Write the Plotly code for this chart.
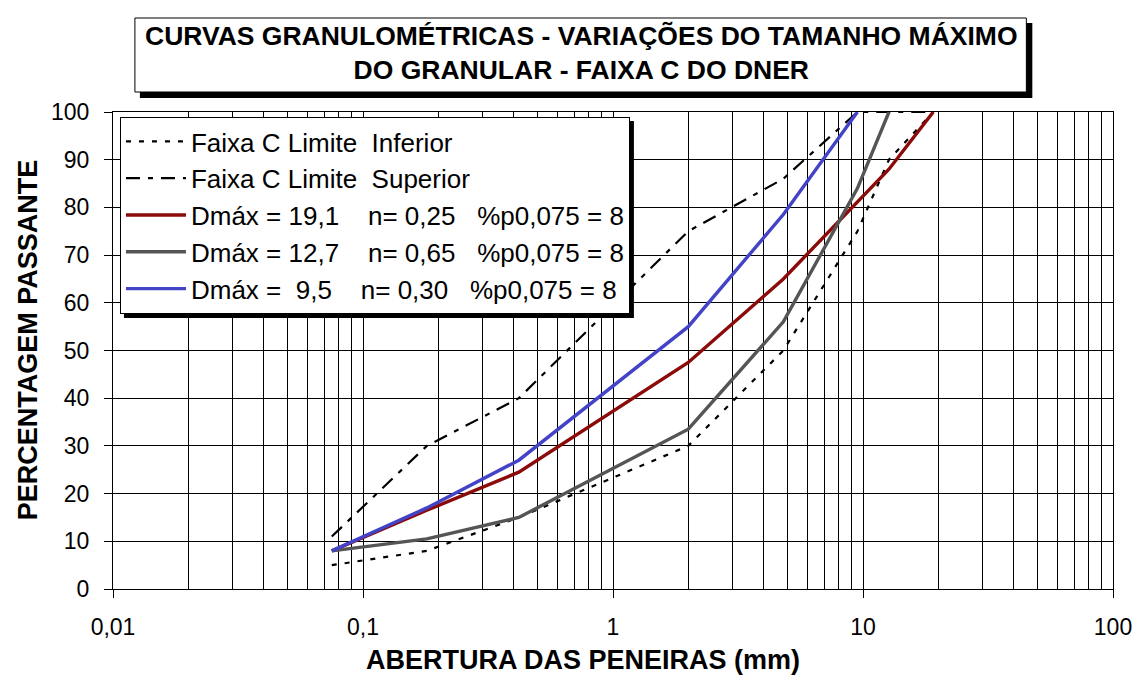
import plotly.graph_objects as go

# aberturas das peneiras (mm)
peneiras = [0.075, 0.18, 0.42, 2.0, 4.8, 9.5, 12.7, 19.1]

# faixa C do DNER
lim_inferior = [5, 8, 15, 30, 50, 75, 90, 100]
lim_superior = [11, 30, 40, 75, 86, 100, 100, 100]

# curvas granulometricas
peneiras_19 = [0.075, 0.18, 0.42, 2.0, 4.8, 9.5, 12.7, 19.1]
curva_19 = [8, 16.5, 24.5, 47.5, 65, 81, 88, 100]
peneiras_12 = [0.075, 0.18, 0.42, 2.0, 4.8, 9.5, 12.7]
curva_12 = [8, 10.5, 15, 33.5, 56, 84, 100]
peneiras_9 = [0.075, 0.18, 0.42, 2.0, 4.8, 9.5]
curva_9 = [8, 17, 27, 55, 78.5, 100]

nb = "\u00a0"
nomes = [
    "Faixa C Limite" + nb + " Inferior",
    "Faixa C Limite" + nb + " Superior",
    "Dmáx = 19,1" + nb * 3 + " n= 0,25" + nb * 2 + " %p0,075 = 8",
    "Dmáx = 12,7" + nb * 3 + " n= 0,65" + nb * 2 + " %p0,075 = 8",
    "Dmáx = " + nb + "9,5" + nb * 3 + " n= 0,30" + nb * 2 + " %p0,075 = 8",
]

x_ticks = [0.01, 0.1, 1, 10, 100]
x_ticktext = ["0,01", "0,1", "1", "10", "100"]
x_minor = [m * 10.0 ** e for e in range(-2, 2) for m in range(2, 10)]

sans = "Liberation Sans, Arial"

fig = go.Figure()
fig.add_trace(go.Scatter(x=peneiras, y=lim_inferior, mode="lines", name=nomes[0],
                         line=dict(color="black", width=2.2, dash="5px,8px")))
fig.add_trace(go.Scatter(x=peneiras, y=lim_superior, mode="lines", name=nomes[1],
                         line=dict(color="black", width=2.2, dash="14px,8px,5px,8px")))
fig.add_trace(go.Scatter(x=peneiras_19, y=curva_19, mode="lines", name=nomes[2],
                         line=dict(color="#8b0a0a", width=3.4)))
fig.add_trace(go.Scatter(x=peneiras_12, y=curva_12, mode="lines", name=nomes[3],
                         line=dict(color="#555555", width=3.4)))
fig.add_trace(go.Scatter(x=peneiras_9, y=curva_9, mode="lines", name=nomes[4],
                         line=dict(color="#4343c8", width=3.4)))

# posicoes em pixels da tela -> coordenadas "paper"
ph = 477.0
pw = 1004.0
def px(x):
    return (x - 113) / pw
def py(y):
    return (589 - y) / ph

# caixa do titulo com sombra
fig.add_shape(type="rect", xref="paper", yref="paper", x0=px(140), x1=px(1036),
              y0=py(98), y1=py(23), fillcolor="black", line=dict(width=0), layer="above")
fig.add_shape(type="rect", xref="paper", yref="paper", x0=px(135), x1=px(1030),
              y0=py(92), y1=py(18), fillcolor="white", line=dict(color="black", width=1),
              layer="above")
fig.add_annotation(xref="paper", yref="paper", x=px(583), y=py(53), showarrow=False,
                   xanchor="center", yanchor="middle",
                   text="CURVAS GRANULOMÉTRICAS - VARIAÇÕES DO TAMANHO MÁXIMO<br>DO GRANULAR - FAIXA C DO DNER",
                   font=dict(family=sans, size=26.5, color="black", weight="bold"),
                   align="center")

# titulos dos eixos
fig.add_annotation(xref="paper", yref="paper", x=px(585), y=py(660), showarrow=False,
                   xanchor="center", yanchor="middle",
                   text="ABERTURA DAS PENEIRAS (mm)",
                   font=dict(family=sans, size=27, color="black", weight="bold"))
fig.add_annotation(xref="paper", yref="paper", x=px(28), y=py(340), showarrow=False,
                   xanchor="center", yanchor="middle", textangle=-90,
                   text="PERCENTAGEM PASSANTE",
                   font=dict(family=sans, size=27, color="black", weight="bold"))

# sombra da legenda
fig.add_shape(type="rect", xref="paper", yref="paper", x0=px(124), x1=px(636),
              y0=py(318), y1=py(121), fillcolor="black", line=dict(width=0), layer="above")

fig.update_layout(
    width=1136, height=667,
    margin=dict(l=105, r=27, t=104, b=86),
    paper_bgcolor="white", plot_bgcolor="white",
    showlegend=True,
    legend=dict(x=px(120), y=py(117), xanchor="left", yanchor="top",
                bgcolor="white", bordercolor="black", borderwidth=1,
                font=dict(family=sans, size=26, color="black"),
                itemwidth=60, tracegroupgap=0),
    xaxis=dict(type="log", range=[-2, 2], tickvals=x_ticks, ticktext=x_ticktext,
               showgrid=True, gridcolor="black", gridwidth=1,
               ticks="outside", ticklen=8, tickcolor="black", ticklabelstandoff=9,
               showline=True, linecolor="black", mirror=True,
               minor=dict(tickvals=x_minor, showgrid=True, gridcolor="black", gridwidth=1,
                          ticks=""),
               tickfont=dict(family=sans, size=23, color="black"),
               zeroline=False),
    yaxis=dict(range=[0, 100], dtick=10, showgrid=True, gridcolor="black", gridwidth=1,
               ticks="outside", ticklen=8, tickcolor="black", ticklabelstandoff=10,
               showline=True, linecolor="black", mirror=True,
               tickfont=dict(family=sans, size=23, color="black"),
               zeroline=False),
)

fig.write_html("out.html")
